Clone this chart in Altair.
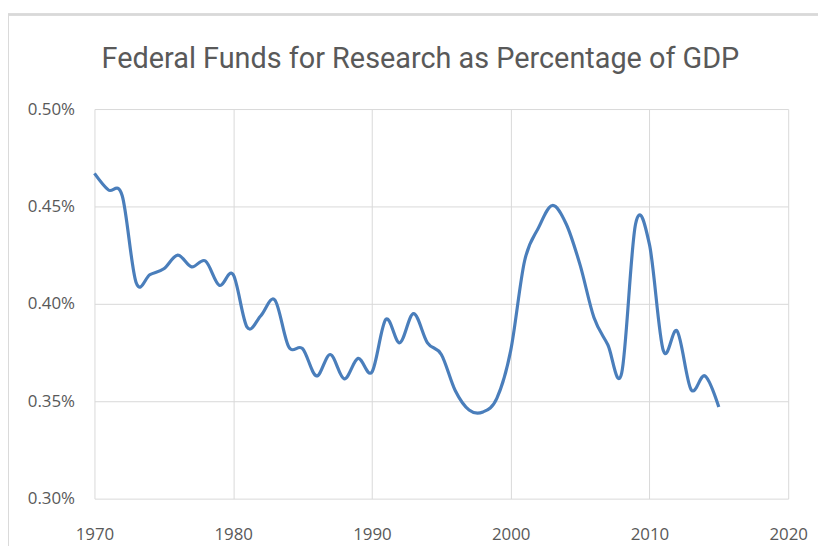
import altair as alt
import pandas as pd

years = list(range(1970, 2016))
pct = [0.467, 0.4585, 0.4555, 0.411, 0.415, 0.418, 0.425, 0.419, 0.422, 0.4095,
       0.415, 0.388, 0.394, 0.402, 0.378, 0.377, 0.363, 0.374, 0.3615, 0.372,
       0.365, 0.392, 0.380, 0.395, 0.380, 0.374, 0.3555, 0.3455, 0.3445, 0.3515,
       0.376, 0.422, 0.439, 0.4505, 0.441, 0.420, 0.393, 0.379, 0.3645, 0.441,
       0.4305, 0.376, 0.386, 0.356, 0.363, 0.347]
y_ticks = [0.003, 0.0035, 0.004, 0.0045, 0.005]
x_ticks = [1970, 1980, 1990, 2000, 2010, 2020]
title_text = "Federal Funds for Research as Percentage of GDP"

df = pd.DataFrame({"year": years, "share": [p / 100 for p in pct]})

line = alt.Chart(df).mark_line(
    interpolate="cardinal", tension=0, color="#4a7ebb", strokeWidth=3.2
).encode(
    x=alt.X("year:Q", scale=alt.Scale(domain=[1970, 2020], nice=False),
            axis=alt.Axis(values=x_ticks, format="d", title=None, labelFlush=False)),
    y=alt.Y("share:Q", scale=alt.Scale(domain=[0.003, 0.005], nice=False, zero=False),
            axis=alt.Axis(values=y_ticks, format=".2%", title=None)),
)

border_left = alt.Chart(df).mark_rule(color="#d9d9d9", strokeWidth=1.5).encode(
    x=alt.value(-87), y=alt.value(-95), y2=alt.value(460)
)
border_top = alt.Chart(df).mark_rule(color="#d9d9d9", strokeWidth=1.5).encode(
    x=alt.value(-87), x2=alt.value(740), y=alt.value(-95)
)
title = alt.Chart(pd.DataFrame({"t": [title_text]})).mark_text(
    font="Roboto",
    fontSize=29,
    color="#595959",
    align="center",
    baseline="alphabetic",
).encode(text="t:N", x=alt.value(328), y=alt.value(-41))

chart = alt.layer(border_left, border_top, title, line).properties(
    width=698,
    height=392,
    autosize=alt.AutoSizeParams(type="none"),
    padding={"left": 87, "top": 100, "right": 30, "bottom": 46},
).configure_view(stroke=None).configure_axis(
    grid=True,
    gridColor="#d9d9d9",
    gridWidth=1,
    domain=False,
    ticks=False,
    labelFont="Open Sans",
    labelFontSize=17,
    labelColor="#595959",
).configure_axisY(labelPadding=20).configure_axisX(labelPadding=28)

chart.save("out.html", embed_options={"renderer": "svg", "actions": False})
